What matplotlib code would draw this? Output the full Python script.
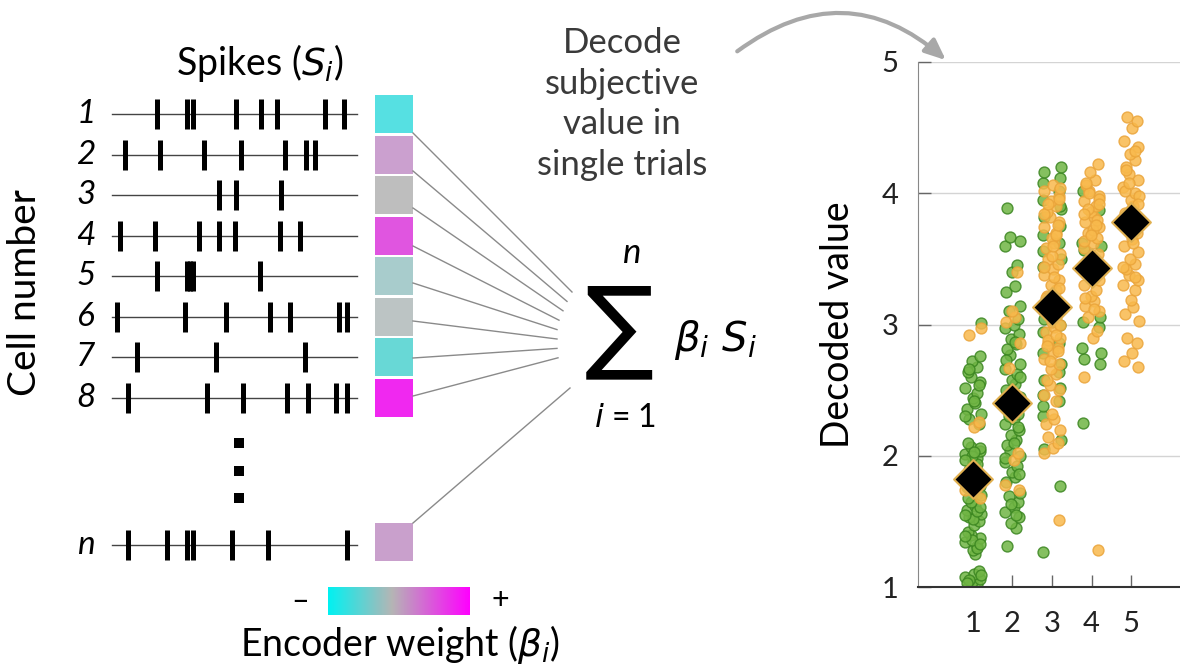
import numpy as np
import matplotlib.pyplot as plt
from matplotlib.patches import Rectangle, FancyArrowPatch
from matplotlib.colors import LinearSegmentedColormap

plt.rcParams['font.family'] = ['Lato', 'DejaVu Sans']
plt.rcParams['mathtext.fontset'] = 'dejavusans'

# ---- schematic data ----
cell_labels = ['1', '2', '3', '4', '5', '6', '7', '8', 'n']
# spike times in ms within a 500 ms window
spike_times = [
    [91, 153, 165, 254, 304, 336, 435, 474],
    [27, 97, 188, 263, 353, 396, 414],
    [218, 253, 345],
    [16, 88, 178, 218, 252, 343, 384],
    [91, 153, 159, 165, 303],
    [11, 149, 232, 322, 363, 464, 479],
    [52, 212, 394],
    [32, 193, 268, 358, 400, 457, 479],
    [33, 112, 154, 166, 244, 318, 479],
]
weight_colors = ['#56e0e2', '#cba0cf', '#bebebe', '#e055e0', '#a8cccc',
                 '#bcc4c4', '#68d8d6', '#f028f0', '#c9a0cc']
T_MAX = 500

# ---- decoded value data (per subjective value 1..5) ----
values = [1, 2, 3, 4, 5]
mean_decoded = [1.82, 2.40, 3.13, 3.43, 3.78]
green_values = [
    [1.00, 1.02, 1.04, 1.06, 1.08, 1.10, 1.12, 1.05, 1.09, 1.03,
     1.25, 1.28, 1.31, 1.34, 1.37, 1.40, 1.42, 1.30, 1.36, 1.33, 1.39,
     1.47, 1.50, 1.53, 1.56, 1.59, 1.62, 1.52, 1.58, 1.55, 1.61,
     1.65, 1.68, 1.71, 1.74, 1.77, 1.80, 1.83, 1.86, 1.89, 1.70, 1.76,
     1.92, 1.95, 1.98, 2.01, 2.04, 2.07, 2.10, 1.94, 2.00, 2.06, 1.97, 2.03,
     2.24, 2.28, 2.32, 2.36, 2.40, 2.44, 2.48, 2.52, 2.56, 2.60,
     2.64, 2.68, 2.72, 2.76, 2.30, 2.42, 2.54, 2.66, 3.01],
    [1.31, 1.45, 1.49, 1.53, 1.57, 1.61, 1.65, 1.69, 1.72, 1.80,
     1.84, 1.88, 1.92, 1.95, 2.00, 2.04, 2.08, 2.12, 2.16, 2.20,
     2.24, 2.28, 2.32, 2.36, 2.45, 2.50, 2.55, 2.58, 2.62, 2.66,
     2.70, 2.77, 2.81, 2.85, 2.89, 2.93, 2.97, 3.00, 3.04, 3.10,
     3.14, 3.25, 3.29, 3.40, 3.45, 3.60, 3.64, 3.67, 3.89,
     1.55, 1.63, 1.86, 1.98, 2.10, 2.22, 2.30, 2.60, 2.73, 2.87],
    [1.27, 1.77, 2.05, 2.12, 2.30, 2.42, 2.46, 2.52, 2.58, 2.70,
     2.78, 2.86, 2.94, 3.00, 3.04, 3.50, 3.56, 3.62, 3.68, 3.75,
     3.82, 3.88, 3.95, 4.02, 4.08, 4.12, 4.16, 4.20, 2.38, 2.64,
     3.44, 3.90],
    [2.25, 2.70, 2.74, 2.78, 2.82, 2.98, 3.02, 3.06, 3.57, 3.60,
     3.62, 3.87, 4.02],
    [],
]
orange_values = [
    [1.68, 1.74, 2.22, 2.26, 2.92, 2.97],
    [1.74, 1.78, 1.97, 2.02, 2.67, 2.86, 3.02, 3.06, 3.10, 3.40],
    [1.51, 2.02, 2.06, 2.10, 2.14, 2.20, 2.24, 2.28, 2.32, 2.42,
     2.46, 2.50, 2.54, 2.58, 2.62, 2.66, 2.70, 2.74, 2.78, 2.82,
     2.86, 2.90, 2.94, 2.98, 3.02, 3.06, 3.10, 3.14, 3.18, 3.22,
     3.26, 3.30, 3.34, 3.38, 3.42, 3.46, 3.50, 3.54, 3.58, 3.62,
     3.66, 3.70, 3.74, 3.78, 3.82, 3.86, 3.90, 3.94, 3.98, 4.02,
     4.06, 2.80, 2.88, 3.00, 3.20, 3.36, 3.52, 3.68, 3.84, 3.96,
     2.72, 2.84, 2.92, 3.08, 3.28, 3.44, 3.60, 3.76, 3.92, 4.04],
    [1.28, 2.60, 2.90, 2.95, 3.06, 3.10, 3.14, 3.18, 3.22, 3.26,
     3.30, 3.34, 3.38, 3.42, 3.46, 3.50, 3.54, 3.58, 3.62, 3.66,
     3.70, 3.74, 3.78, 3.82, 3.86, 3.90, 3.94, 3.98, 4.02, 4.06,
     4.10, 4.16, 4.22, 3.64, 3.72, 3.80, 3.88, 3.96, 3.20, 3.12,
     3.68, 3.76, 3.84, 3.92, 4.00, 4.08],
    [2.68, 2.72, 2.78, 2.86, 2.90, 3.03, 3.08, 3.13, 3.19, 3.26,
     3.30, 3.34, 3.38, 3.42, 3.46, 3.50, 3.55, 3.60, 3.65, 3.70,
     3.75, 3.80, 3.85, 3.90, 3.95, 4.00, 4.05, 4.10, 4.15, 4.20,
     4.25, 4.30, 4.35, 4.40, 4.50, 4.55, 4.58, 3.98, 4.02, 3.62, 3.72,
     3.36, 3.44, 3.92, 4.08, 4.18, 4.32],
]

# hand-placed horizontal offsets used to spread the points
JITTER = [-0.13, 0.09, -0.03, 0.17, -0.19, 0.03, 0.14, -0.09, 0.2, -0.16,
          0.06, -0.01, 0.11, -0.2, 0.18, -0.06]
EDGE = [-0.22, 0.21, -0.19, 0.23, -0.23, 0.18]


def offsets(n, pattern):
    return np.array([pattern[k % len(pattern)] for k in range(n)])


fig = plt.figure(figsize=(11.8, 6.7), dpi=100)
ax = fig.add_axes([0, 0, 1, 1])
ax.set_xlim(0, 1180)
ax.set_ylim(670, 0)
ax.axis('off')

# spike trains
X0, X1 = 112, 357
row_y = [114, 155, 195, 236, 276, 317, 357, 398, 545]
for i, (lab, times, col) in enumerate(zip(cell_labels, spike_times, weight_colors)):
    y = row_y[i]
    ax.plot([X0, X1], [y, y], color='#444444', lw=1)
    xs = [X0 + t / T_MAX * (X1 - X0) for t in times]
    ax.vlines(xs, y - 15, y + 15, color='black', lw=3.6)
    ax.text(86, y, lab, style='italic', fontsize=24, ha='center', va='center')
    by = y if lab != 'n' else y - 3
    ax.add_patch(Rectangle((375, by - 19), 38, 38, color=col, lw=0))
    # connector to the sum
    if lab != 'n':
        sy = y + 19 - 3 * i
        ex = [572, 567, 563, 559, 557, 557, 557, 558][i]
        ey = 292 + i * 9.4
    else:
        sy, ex, ey = by - 19, 570, 388
    ax.plot([413, ex], [sy, ey], color='#8a8a8a', lw=1)

# vertical ellipsis
for dy in (443, 471, 498):
    ax.add_patch(Rectangle((234, dy - 5), 10, 10, color='black', lw=0))

ax.text(260, 63, 'Spikes ($S_i$)', ha='center', va='center', fontsize=27)
ax.text(25, 293, 'Cell number', rotation=90, ha='center', va='center', fontsize=28)

# encoder weight colour bar
cmap = LinearSegmentedColormap.from_list(
    'w', [(0, '#00f2f2'), (0.45, '#b5b5b5'), (1, '#ff00ff')])
ax.imshow(np.linspace(0, 1, 256)[None, :], extent=[328, 470, 615, 587],
          cmap=cmap, aspect='auto', zorder=2)
ax.set_xlim(0, 1180)
ax.set_ylim(670, 0)
ax.text(300, 601, '–', ha='center', va='center', fontsize=22)
ax.text(500, 600, '+', ha='center', va='center', fontsize=22)
ax.text(400, 645, r'Encoder weight ($\beta_i$)', ha='center', va='center', fontsize=27)

# weighted sum
ax.text(619, 331, '∑', family='DejaVu Sans', fontsize=74, ha='center', va='center')
ax.text(632, 253, 'n', style='italic', fontsize=25, ha='center', va='center')
ax.text(625, 418, r'$i$ = 1', fontsize=23, ha='center', va='center')
ax.text(715, 340, r'$\beta_i\ S_i$', fontsize=29, ha='center', va='center')

ax.text(622, 104, 'Decode\nsubjective\nvalue in\nsingle trials', ha='center',
        va='center', fontsize=25, linespacing=1.33, color='#3a3a3a')

arrow = FancyArrowPatch((735, 53), (948, 62), connectionstyle='arc3,rad=-0.41',
                        arrowstyle='-|>,head_length=0.7,head_width=0.3',
                        mutation_scale=18, color='#a8a8a8', lw=3)
ax.add_patch(arrow)

ax.text(838, 325, 'Decoded value', rotation=90, ha='center', va='center', fontsize=27)

# decoded value scatter
axs = fig.add_axes([918 / 1180, 83 / 670, 262 / 1180, 525 / 670])
axs.set_facecolor('none')
for c, gv, ov in zip(values, green_values, orange_values):
    pat = JITTER if c <= 2 else EDGE
    if gv:
        axs.scatter(c + offsets(len(gv), pat), gv, s=62, facecolor='#70b544',
                    edgecolor='#3a8520', lw=1, alpha=0.85, zorder=2)
    axs.scatter(c + offsets(len(ov), JITTER[3:] + JITTER[:3]), ov, s=62,
                facecolor='#f8b94c', edgecolor='#eaa43a', lw=1, alpha=0.85, zorder=3)
axs.scatter(values, mean_decoded, marker='D', s=390, facecolor='black',
            edgecolor='#e0b050', lw=1.5, zorder=4)

axs.set_xlim(-0.392, 6.24)
axs.set_ylim(1, 5)
axs.set_xticks(values)
axs.set_yticks([1, 2, 3, 4, 5])
axs.tick_params(direction='in', length=9, width=1, labelsize=21, pad=14, colors='#666666',
                labelcolor='#222222')
axs.tick_params(axis='x', pad=17)
axs.grid(axis='y', color='#d4d4d4', lw=1)
axs.set_axisbelow(True)
for s in ('top', 'right'):
    axs.spines[s].set_visible(False)
axs.spines['left'].set_color('#888888')
axs.spines['bottom'].set_color('#333333')
axs.spines['bottom'].set_linewidth(1.5)

fig.savefig('out.png', dpi=100)
